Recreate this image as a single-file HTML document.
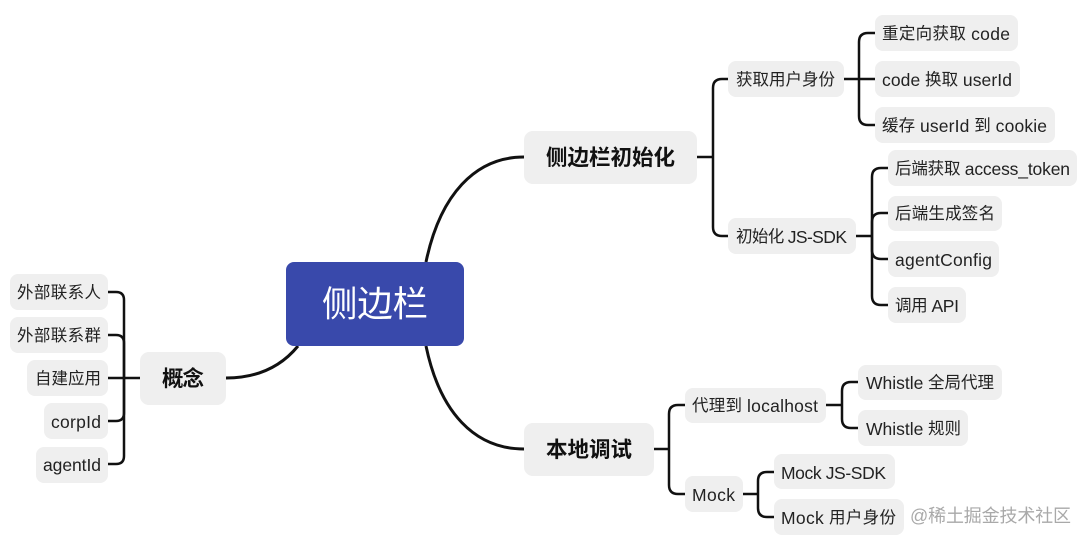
<!DOCTYPE html>
<html><head><meta charset="utf-8"><style>
html,body{margin:0;padding:0;background:#fff;width:1088px;height:542px;overflow:hidden}
svg{display:block;filter:blur(0.35px)}
text{font-family:"Liberation Sans","Noto Sans CJK SC",sans-serif;fill:#222;dominant-baseline:central;transform:translateY(1px)}
.n{font-size:16.5px}
.n tspan{font-size:17.5px}
.m{font-size:21.5px;font-weight:700;fill:#111}
rect.b{fill:#efefef}
path{fill:none;stroke:#111;stroke-linecap:butt}
</style></head><body>
<svg width="1088" height="542" viewBox="0 0 1088 542" xmlns="http://www.w3.org/2000/svg">
<g stroke-width="3">
<path d="M426 262C440 195 475 157 524 157"/>
<path d="M426 346C440 413 475 449 524 449"/>
<path d="M226 378C255 378 280 368 298 346"/>
</g>
<g stroke-width="2.5">
<path d="M697 157H713"/>
<path d="M728 79H722Q713 79 713 88V227Q713 236 722 236H728"/>
<path d="M844 79H875"/>
<path d="M875 33H868Q859 33 859 42V116Q859 125 868 125H875"/>
<path d="M856 236H872"/>
<path d="M888 168H881Q872 168 872 177V296Q872 305 881 305H888"/>
<path d="M888 213H881Q872 213 872 222V250Q872 259 881 259H888"/>
<path d="M654 449H669"/>
<path d="M685 405H678Q669 405 669 414V485Q669 494 678 494H685"/>
<path d="M826 405H842"/>
<path d="M858 382H851Q842 382 842 391V419Q842 428 851 428H858"/>
<path d="M743 494H758"/>
<path d="M774 472H767Q758 472 758 481V508Q758 517 767 517H774"/>
<path d="M140 378H108"/>
<path d="M108 292H116Q124 292 124 300V456Q124 464 116 464H108"/>
<path d="M108 335H116Q124 335 124 343V413Q124 421 116 421H108"/>
</g>
<rect x="286" y="262" width="178" height="84" rx="8" fill="#3949ab"/>
<text x="375" y="303" text-anchor="middle" font-size="35.5" style="fill:#fff" textLength="106">侧边栏</text>

<rect class="b" x="524" y="131" width="173" height="53" rx="9"/>
<text class="m" x="546" y="157" textLength="129">侧边栏初始化</text>
<rect class="b" x="524" y="423" width="130" height="53" rx="9"/>
<text class="m" x="546" y="449" textLength="86">本地调试</text>
<rect class="b" x="140" y="352" width="86" height="53" rx="9"/>
<text class="m" x="162" y="378" textLength="42">概念</text>

<rect class="b" x="728" y="61" width="116" height="36" rx="8"/>
<text class="n" x="736" y="79" textLength="99">获取用户身份</text>
<rect class="b" x="728" y="218" width="128" height="36" rx="8"/>
<text class="n" x="736" y="236" textLength="111">初始化 <tspan>JS-SDK</tspan></text>
<rect class="b" x="875" y="15" width="143" height="36" rx="8"/>
<text class="n" x="882" y="33" textLength="128">重定向获取 <tspan>code</tspan></text>
<rect class="b" x="875" y="61" width="145" height="36" rx="8"/>
<text class="n" x="882" y="79" textLength="130"><tspan>code</tspan> 换取 <tspan>userId</tspan></text>
<rect class="b" x="875" y="107" width="180" height="36" rx="8"/>
<text class="n" x="882" y="125" textLength="165">缓存 <tspan>userId</tspan> 到 <tspan>cookie</tspan></text>
<rect class="b" x="888" y="150" width="189" height="36" rx="8"/>
<text class="n" x="895" y="168" textLength="175">后端获取 <tspan>access_token</tspan></text>
<rect class="b" x="888" y="196" width="114" height="35" rx="8"/>
<text class="n" x="895" y="213" textLength="100">后端生成签名</text>
<rect class="b" x="888" y="241" width="111" height="36" rx="8"/>
<text class="n" x="895" y="259" textLength="97"><tspan>agentConfig</tspan></text>
<rect class="b" x="888" y="287" width="78" height="36" rx="8"/>
<text class="n" x="895" y="305" textLength="64">调用 <tspan>API</tspan></text>

<rect class="b" x="685" y="388" width="141" height="35" rx="8"/>
<text class="n" x="692" y="405" textLength="126">代理到 <tspan>localhost</tspan></text>
<rect class="b" x="685" y="476" width="58" height="36" rx="8"/>
<text class="n" x="692" y="494" textLength="43"><tspan>Mock</tspan></text>
<rect class="b" x="858" y="365" width="144" height="35" rx="8"/>
<text class="n" x="866" y="382" textLength="128"><tspan>Whistle</tspan> 全局代理</text>
<rect class="b" x="858" y="410" width="110" height="36" rx="8"/>
<text class="n" x="866" y="428" textLength="95"><tspan>Whistle</tspan> 规则</text>
<rect class="b" x="774" y="454" width="121" height="35" rx="8"/>
<text class="n" x="781" y="472" textLength="105"><tspan>Mock JS-SDK</tspan></text>
<rect class="b" x="774" y="499" width="130" height="36" rx="8"/>
<text class="n" x="781" y="517" textLength="115"><tspan>Mock</tspan> 用户身份</text>

<rect class="b" x="10" y="274" width="98" height="36" rx="8"/>
<text class="n" x="17" y="292" textLength="84">外部联系人</text>
<rect class="b" x="10" y="317" width="98" height="36" rx="8"/>
<text class="n" x="17" y="335" textLength="84">外部联系群</text>
<rect class="b" x="27" y="360" width="81" height="36" rx="8"/>
<text class="n" x="35" y="378" textLength="66">自建应用</text>
<rect class="b" x="44" y="403" width="64" height="36" rx="8"/>
<text class="n" x="51" y="421" textLength="50"><tspan>corpId</tspan></text>
<rect class="b" x="36" y="447" width="72" height="36" rx="8"/>
<text class="n" x="43" y="464" textLength="58"><tspan>agentId</tspan></text>

<text x="910" y="515" font-size="18" style="fill:#a9a9a9" textLength="161">@稀土掘金技术社区</text>
</svg>
</body></html>
